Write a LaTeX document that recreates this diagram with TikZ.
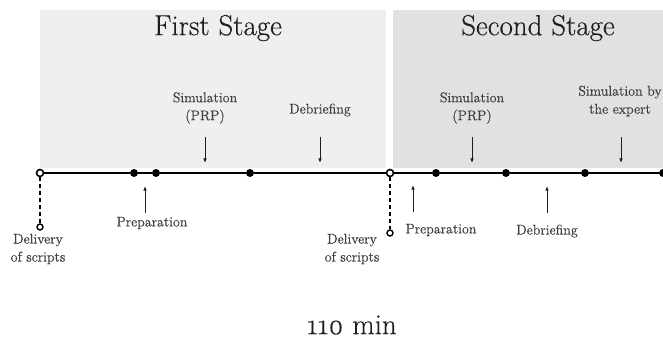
\documentclass[tikz,border=0pt]{standalone}
\usepackage{fontspec}
\usetikzlibrary{arrows.meta}
\newfontfamily\lblfont{Latin Modern Roman}[FakeBold=0.5]
\newfontfamily\ttlfont{Latin Modern Roman}[FakeBold=0.3]
\definecolor{stageone}{HTML}{EFEFEF}
\definecolor{stagetwo}{HTML}{E1E1E1}
\definecolor{labelgray}{HTML}{404040}
\definecolor{inkdark}{HTML}{1E1E1E}
\begin{document}
\begin{tikzpicture}[x=1pt,y=-1pt,
  lbl/.style={font=\lblfont\fontsize{14}{18}\selectfont, text=labelgray, align=center, inner sep=0pt},
  title/.style={font=\ttlfont\fontsize{29}{34}\selectfont, text=inkdark, inner sep=0pt},
  arr/.style={-{Latex[length=4.5pt,width=3.5pt]}, line width=0.9pt, draw=inkdark},
  dot/.style={circle, fill=black, minimum size=8pt, inner sep=0pt},
  hollow/.style={circle, draw=black, fill=white, line width=1.6pt, minimum size=7pt, inner sep=0pt},
  tail/.style={circle, draw=black, fill=white, line width=1.4pt, minimum size=6pt, inner sep=0pt},
  axis/.style={line width=2pt, draw=black},
  drop/.style={line width=1.8pt, dash pattern=on 4pt off 3pt}
]
\useasboundingbox (0,0) rectangle (663,339);

% stage panels
\fill[stageone] (40,10) rectangle (386,168);
\fill[stagetwo] (393,10) rectangle (663,168);
\node[title] (t1) at (218,28) {First Stage};
\node[title] (t2) at (538,28) {Second Stage};

% timeline points
\node[hollow] (d0) at (40,173) {};
\node[dot] (p1) at (134,173) {};
\node[dot] (p2) at (156,173) {};
\node[dot] (p3) at (250,173) {};
\node[hollow] (d1) at (390,173) {};
\node[dot] (p4) at (436,173) {};
\node[dot] (p5) at (506,173) {};
\node[dot] (p6) at (585,173) {};
\node[dot] (p7) at (663,173) {};
\draw[axis] (d0) -- (p1) -- (p2) -- (p3) -- (d1) -- (p4) -- (p5) -- (p6) -- (p7);

% script delivery markers
\node[tail] (e0) at (40,227) {};
\node[tail] (e1) at (390,233) {};
\draw[drop] (d0) -- (e0);
\draw[drop] (d1) -- (e1);

% labels
\node[lbl] (del1) at (38,249) {Delivery\\of scripts};
\node[lbl] (del2) at (352,249) {Delivery\\of scripts};
\node[lbl] (prep1) at (152,223) {Preparation};
\node[lbl] (prep2) at (441,230) {Preparation};
\node[lbl] (deb2) at (547,231) {Debriefing};
\node[lbl] (sim1) at (205,108) {Simulation\\(PRP)};
\node[lbl] (deb1) at (320,110) {Debriefing};
\node[lbl] (sim2) at (472,108) {Simulation\\(PRP)};
\node[lbl] (sim3) at (620,101) {Simulation by\\the expert};
\node[title] (total) at (352,325) {\oldstylenums{110} min};

% pointer arrows below the line
\coordinate (a1s) at (145,213); \coordinate (a1e) at (145,186);
\coordinate (a2s) at (413,212); \coordinate (a2e) at (413,185);
\coordinate (a3s) at (547,213); \coordinate (a3e) at (547,186);
\draw[arr] (a1s) -- (a1e);
\draw[arr] (a2s) -- (a2e);
\draw[arr] (a3s) -- (a3e);

% pointer arrows above the line
\coordinate (b1s) at (205,137); \coordinate (b1e) at (205,163);
\coordinate (b2s) at (320,137); \coordinate (b2e) at (320,163);
\coordinate (b3s) at (472,137); \coordinate (b3e) at (472,163);
\coordinate (b4s) at (621,137); \coordinate (b4e) at (621,163);
\draw[arr] (b1s) -- (b1e);
\draw[arr] (b2s) -- (b2e);
\draw[arr] (b3s) -- (b3e);
\draw[arr] (b4s) -- (b4e);
\end{tikzpicture}
\end{document}
